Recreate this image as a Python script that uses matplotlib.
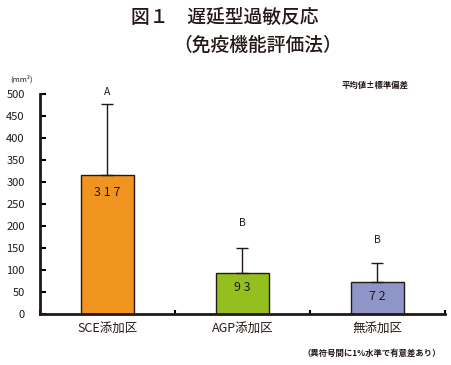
import numpy as np
import matplotlib.pyplot as plt

plt.rcParams['font.family'] = ['Noto Sans CJK JP', 'DejaVu Sans']

groups = ['SCE添加区', 'AGP添加区', '無添加区']
means = [317, 93, 72]
sds = [160, 57, 44]
letters = ['A', 'B', 'B']
letter_y = [505, 207, 168]
label_y = [275, 61, 39]
colors = ['#F0941F', '#93C01F', '#8E96C8']

fig = plt.figure(figsize=(4.52, 3.65), dpi=100)
ax = fig.add_axes([40/452, 1-314/365, 405/452, 220/365])

x = np.arange(len(groups))
ax.bar(x, means, width=0.39, color=colors, edgecolor='#231815', linewidth=1.0, zorder=2)
ax.errorbar(x, means, yerr=[np.zeros(3), sds], fmt='none', ecolor='#231815',
            elinewidth=1.0, capsize=4, capthick=1.0, zorder=3)

for i in range(len(groups)):
    ax.text(x[i], letter_y[i], letters[i], ha='center', va='center', fontsize=7.5, color='#231815')
    ax.text(x[i], label_y[i], ' '.join(str(means[i])),
            ha='center', va='center', fontsize=9, color='#231815')

ax.set_xlim(-0.5, 2.5)
ax.set_ylim(0, 500)
ax.set_yticks(np.arange(0, 501, 50))
ax.tick_params(axis='y', direction='in', length=4, width=1.5, labelsize=8, pad=11,
               labelcolor='#231815')
ax.set_xticks([-0.5, 0.5, 1.5, 2.5])
ax.set_xticklabels([])
ax.tick_params(axis='x', direction='in', length=3, width=1.5)
for i, g in enumerate(groups):
    ax.text(x[i], -33, g, ha='center', va='center', fontsize=9, color='#231815')

ax.spines['top'].set_visible(False)
ax.spines['right'].set_visible(False)
ax.spines['left'].set_linewidth(2)
ax.spines['bottom'].set_linewidth(2)
ax.spines['left'].set_color('#231815')
ax.spines['bottom'].set_color('#231815')

fig.text(225/452, 1-17/365, '図１　遅延型過敏反応', ha='center', va='center', fontsize=13.5,
         fontweight='medium', color='#231815')
fig.text(258/452, 1-45/365, '（免疫機能評価法）', ha='center', va='center', fontsize=13.5,
         fontweight='medium', color='#231815')
fig.text(22/452, 1-79/365, '(mm²)', ha='center', va='center', fontsize=5.5, color='#231815')
fig.text(375/452, 1-85/365, '平均値±標準偏差', ha='center', va='center', fontsize=6,
         fontweight='bold', color='#231815')
fig.text(372/452, 1-353/365, '（異符号間に1%水準で有意差あり）', ha='center', va='center', fontsize=6,
         fontweight='bold', color='#231815')

fig.savefig('out.png', dpi=100)
